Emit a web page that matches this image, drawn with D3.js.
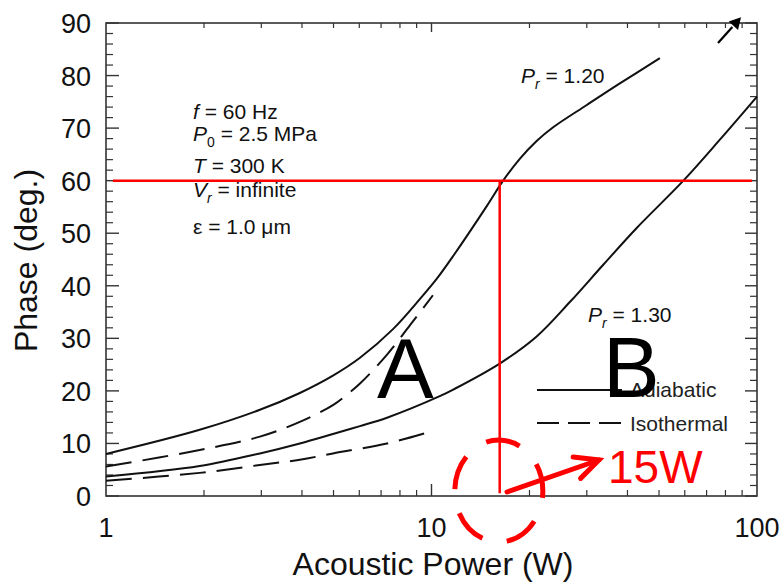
<!DOCTYPE html>
<html>
<head>
<meta charset="utf-8">
<script src="https://cdn.jsdelivr.net/npm/d3@7"></script>
<style>
  html, body { margin: 0; padding: 0; background: #fff; }
  svg { display: block; font-family: "Liberation Sans", Arial, Helvetica, sans-serif; }
</style>
</head>
<body>
<svg id="chart" width="783" height="585"></svg>
<script>
// ---------------- data ----------------
const powerAdiabatic120 = [1, 1.94, 2.97, 3.94, 4.98, 6.03, 7.63, 9.22, 10.4, 11.7, 14.8, 16.6, 18.7, 21.0, 23.7, 30, 37.9, 50.3];
const phaseAdiabatic120 = [8.0, 12.6, 16.4, 19.6, 22.9, 26.3, 31.8, 37.5, 41.4, 45.8, 55.2, 60.0, 64.2, 67.5, 70.2, 74.4, 78.5, 83.3];

const powerIsothermal120 = [1, 1.94, 2.97, 3.94, 4.98, 5.5, 6.03, 7.28, 8.59, 10.1];
const phaseIsothermal120 = [5.6, 8.75, 11.3, 14.1, 17.3, 19.3, 21.4, 26.8, 32.5, 38.2];

const powerAdiabatic130 = [1, 1.94, 2.97, 3.94, 4.98, 6.03, 7.3, 10.6, 11.7, 16.2, 21.0, 26.7, 33.7, 42.7, 59.4, 76.9, 100];
const phaseAdiabatic130 = [3.7, 5.7, 8.1, 10.0, 11.8, 13.3, 14.9, 19.0, 20.3, 25.2, 30.3, 37.0, 44.0, 51.0, 60.0, 67.8, 76.0];

const powerIsothermal130 = [1, 1.94, 2.97, 3.94, 4.98, 7.3, 10.1];
const phaseIsothermal130 = [2.9, 4.4, 5.9, 6.9, 8.1, 10.0, 12.4];

const xTickLabels = [1, 10, 100];
const yTickLabels = [0, 10, 20, 30, 40, 50, 60, 70, 80, 90];
const xMinorTicks = [2, 3, 4, 5, 6, 7, 8, 9, 20, 30, 40, 50, 60, 70, 80, 90];
const yMinorTicks = [2, 4, 6, 8, 12, 14, 16, 18, 22, 24, 26, 28, 32, 34, 36, 38, 42, 44, 46, 48, 52, 54, 56, 58, 62, 64, 66, 68, 72, 74, 76, 78, 82, 84, 86, 88];

const refPhase = 60;      // red horizontal line
const refPower = 16.2;    // red vertical line ("15W")

// ---------------- scales ----------------
const svg = d3.select("#chart");
const x = d3.scaleLog().domain([1, 100]).range([106, 757]);
const y = d3.scaleLinear().domain([0, 90]).range([496, 23]);

const line = d3.line().x(d => x(d[0])).y(d => y(d[1])).curve(d3.curveCatmullRom.alpha(0.5));
const zip = (a, b) => a.map((v, i) => [v, b[i]]);

const ink = "#111";

// ---------------- frame & ticks ----------------
const g = svg.append("g");
g.append("rect").attr("x", x(1)).attr("y", y(90))
  .attr("width", x(100) - x(1)).attr("height", y(0) - y(90))
  .attr("fill", "none").attr("stroke", "#333").attr("stroke-width", 1.6);

yTickLabels.forEach(v => {
  g.append("line").attr("x1", x(1)).attr("x2", x(1) + 13).attr("y1", y(v)).attr("y2", y(v)).attr("stroke", "#333").attr("stroke-width", 1.4);
  g.append("line").attr("x1", x(100)).attr("x2", x(100) - 12).attr("y1", y(v)).attr("y2", y(v)).attr("stroke", "#333").attr("stroke-width", 1.4);
});
yMinorTicks.forEach(v => {
  g.append("line").attr("x1", x(1)).attr("x2", x(1) + 7).attr("y1", y(v)).attr("y2", y(v)).attr("stroke", "#333").attr("stroke-width", 1.2);
  g.append("line").attr("x1", x(100)).attr("x2", x(100) - 7).attr("y1", y(v)).attr("y2", y(v)).attr("stroke", "#333").attr("stroke-width", 1.2);
});
[10].forEach(v => {
  g.append("line").attr("x1", x(v)).attr("x2", x(v)).attr("y1", y(0)).attr("y2", y(0) - 12).attr("stroke", "#333").attr("stroke-width", 1.4);
  g.append("line").attr("x1", x(v)).attr("x2", x(v)).attr("y1", y(90)).attr("y2", y(90) + 9).attr("stroke", "#333").attr("stroke-width", 1.4);
});
xMinorTicks.forEach(v => {
  g.append("line").attr("x1", x(v)).attr("x2", x(v)).attr("y1", y(0)).attr("y2", y(0) - 6).attr("stroke", "#333").attr("stroke-width", 1.2);
  g.append("line").attr("x1", x(v)).attr("x2", x(v)).attr("y1", y(90)).attr("y2", y(90) + 5).attr("stroke", "#333").attr("stroke-width", 1.2);
});

g.selectAll(".ylab").data(yTickLabels).enter().append("text")
  .attr("x", x(1) - 15).attr("y", d => y(d) + 10)
  .attr("text-anchor", "end").attr("font-size", 27).attr("fill", ink).text(d => d);
g.selectAll(".xlab").data(xTickLabels).enter().append("text")
  .attr("x", d => x(d)).attr("y", 537)
  .attr("text-anchor", "middle").attr("font-size", 27).attr("fill", ink).text(d => d);

svg.append("text").attr("transform", "translate(37," + ((y(0) + y(90)) / 2 + 1) + ") rotate(-90)")
  .attr("text-anchor", "middle").attr("font-size", 32).attr("fill", ink).text("Phase (deg.)");
svg.append("text").attr("x", 433).attr("y", 575)
  .attr("text-anchor", "middle").attr("font-size", 32).attr("fill", ink).text("Acoustic Power (W)");

// ---------------- curves ----------------
const curves = [
  { p: powerAdiabatic120, v: phaseAdiabatic120, dash: null },
  { p: powerIsothermal120, v: phaseIsothermal120, dash: "26,11" },
  { p: powerAdiabatic130, v: phaseAdiabatic130, dash: null },
  { p: powerIsothermal130, v: phaseIsothermal130, dash: "26,11" }
];
curves.forEach(c => {
  svg.append("path").attr("d", line(zip(c.p, c.v)))
    .attr("fill", "none").attr("stroke", ink).attr("stroke-width", 2)
    .attr("stroke-dasharray", c.dash);
});

// ---------------- parameter text ----------------
const info = svg.append("g").attr("font-size", 21).attr("fill", ink);
function sub(t, main, s, rest, italicSub) {
  t.append("tspan").attr("font-style", "italic").text(main);
  t.append("tspan").attr("font-size", 14).attr("dy", 6).attr("font-style", italicSub ? "italic" : null).text(s);
  t.append("tspan").attr("dy", -6).text(rest);
}
let t;
t = info.append("text").attr("x", 193).attr("y", 119);
t.append("tspan").attr("font-style", "italic").text("f");
t.append("tspan").text(" = 60 Hz");
t = info.append("text").attr("x", 193).attr("y", 141);
sub(t, "P", "0", " = 2.5 MPa", false);
t = info.append("text").attr("x", 193).attr("y", 173);
t.append("tspan").attr("font-style", "italic").text("T");
t.append("tspan").text(" = 300 K");
t = info.append("text").attr("x", 193).attr("y", 197);
sub(t, "V", "r", " = infinite", true);
t = info.append("text").attr("x", 193).attr("y", 234).text("ε = 1.0 μm");

t = svg.append("text").attr("x", 521).attr("y", 83).attr("font-size", 21).attr("fill", ink);
sub(t, "P", "r", " = 1.20", true);
t = svg.append("text").attr("x", 588).attr("y", 322).attr("font-size", 21).attr("fill", ink);
sub(t, "P", "r", " = 1.30", true);

// legend
svg.append("line").attr("x1", 537).attr("x2", 622).attr("y1", 390).attr("y2", 390)
  .attr("stroke", ink).attr("stroke-width", 2);
svg.append("line").attr("x1", 537).attr("x2", 624).attr("y1", 423).attr("y2", 423)
  .attr("stroke", ink).attr("stroke-width", 2).attr("stroke-dasharray", "22,9");
svg.append("text").attr("x", 630).attr("y", 397).attr("font-size", 21).attr("fill", "#222").text("Adiabatic");
svg.append("text").attr("x", 630).attr("y", 431).attr("font-size", 21).attr("fill", "#222").text("Isothermal");

// ---------------- annotations ----------------
const red = "#f00";
svg.append("line").attr("x1", x(1.05)).attr("x2", x(96.5)).attr("y1", y(refPhase)).attr("y2", y(refPhase))
  .attr("stroke", red).attr("stroke-width", 2.5);
svg.append("line").attr("x1", x(refPower)).attr("x2", x(refPower)).attr("y1", y(refPhase)).attr("y2", y(0.5))
  .attr("stroke", red).attr("stroke-width", 2.5);

svg.append("ellipse").attr("cx", x(16.1)).attr("cy", y(0.95)).attr("rx", 44).attr("ry", 51)
  .attr("pathLength", 300)
  .attr("fill", "none").attr("stroke", red).attr("stroke-width", 5)
  .attr("stroke-dasharray", "35,25").attr("stroke-dashoffset", 28);

const ax1 = x(17.06), ay1 = y(0.76), ax2 = x(32.7), ay2 = y(6.85);
svg.append("line").attr("x1", ax1).attr("y1", ay1).attr("x2", ax2).attr("y2", ay2)
  .attr("stroke", red).attr("stroke-width", 5).attr("stroke-linecap", "round");
{
  const ang = Math.atan2(ay2 - ay1, ax2 - ax1), L = 26, w = 0.45;
  const p1 = [ax2 - L * Math.cos(ang - w), ay2 - L * Math.sin(ang - w)];
  const p2 = [ax2 - L * Math.cos(ang + w), ay2 - L * Math.sin(ang + w)];
  svg.append("path").attr("d", `M${p1[0]},${p1[1]} L${ax2},${ay2} L${p2[0]},${p2[1]}`)
    .attr("fill", "none").attr("stroke", red).attr("stroke-width", 5)
    .attr("stroke-linejoin", "miter").attr("stroke-linecap", "round");
}
svg.append("text").attr("x", 608).attr("y", 483).attr("font-size", 46).attr("fill", red).text("15W");

svg.append("text").attr("x", 377).attr("y", 398).attr("font-size", 85).attr("fill", "#000").text("A");
svg.append("text").attr("x", 603).attr("y", 397).attr("font-size", 85).attr("fill", "#000").text("B");

{
  const bx1 = x(75.9), by1 = y(86.2), bx2 = x(89.3), by2 = y(91.1);
  const ang = Math.atan2(by2 - by1, bx2 - bx1), L = 13, w = 0.5;
  const bx0 = bx2 - L * Math.cos(ang), by0 = by2 - L * Math.sin(ang);
  svg.append("line").attr("x1", bx1).attr("y1", by1).attr("x2", bx0).attr("y2", by0)
    .attr("stroke", "#000").attr("stroke-width", 2.2);
  const p1 = [bx2 - L * Math.cos(ang - w), by2 - L * Math.sin(ang - w)];
  const p2 = [bx2 - L * Math.cos(ang + w), by2 - L * Math.sin(ang + w)];
  svg.append("path").attr("d", `M${bx2},${by2} L${p1[0]},${p1[1]} L${p2[0]},${p2[1]} Z`).attr("fill", "#000");
}
</script>
</body>
</html>
